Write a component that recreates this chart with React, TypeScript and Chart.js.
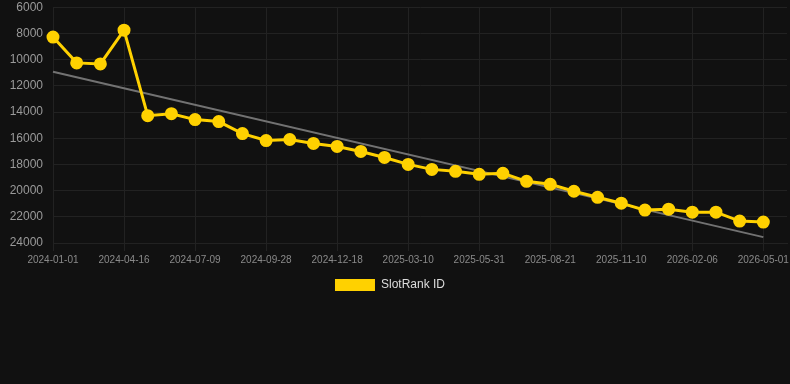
import React, { useEffect, useRef } from "react";
import { Chart, registerables } from "chart.js";

Chart.register(...registerables);

const dateLabels: string[] = [
  "2024-01-01", "2024-02-05", "2024-03-11",
  "2024-04-16", "2024-05-14", "2024-06-11",
  "2024-07-09", "2024-08-05", "2024-09-01",
  "2024-09-28", "2024-10-25", "2024-11-21",
  "2024-12-18", "2025-01-14", "2025-02-11",
  "2025-03-10", "2025-04-06", "2025-05-03",
  "2025-05-31", "2025-06-27", "2025-07-24",
  "2025-08-21", "2025-09-17", "2025-10-14",
  "2025-11-10", "2025-12-09", "2026-01-08",
  "2026-02-06", "2026-03-06", "2026-04-03",
  "2026-05-01", "",
];

const rankValues: number[] = [
  8280, 10250, 10330, 7750, 14280, 14130, 14580, 14730, 15650, 16180,
  16100, 16400, 16630, 17010, 17470, 18000, 18380, 18530, 18760, 18680,
  19290, 19520, 20050, 20510, 20960, 21490, 21420, 21650, 21650, 22330,
  22400,
];

const trendStart = 10920;
const trendEnd = 23550;

const yTicks = { min: 6000, max: 24000, step: 2000 };

const legendShift = {
  id: "legendShift",
  afterLayout(c: any) {
    if (c.legend) {
      c.legend.right -= 10;
      c.legend.width -= 10;
    }
  },
};

export default function App() {
  const ref = useRef<HTMLCanvasElement | null>(null);

  useEffect(() => {
    document.body.style.margin = "0";
    document.body.style.background = "#111111";
    if (!ref.current) return;
    const trendData: (number | null)[] = rankValues.map((_, i) =>
      i === 0 ? trendStart : i === rankValues.length - 1 ? trendEnd : null
    );
    const gridColor = "#222222";
    const chart = new Chart(ref.current, {
      type: "line",
      plugins: [legendShift],
      data: {
        labels: dateLabels,
        datasets: [
          {
            label: "SlotRank ID",
            data: rankValues,
            borderColor: "#FFD100",
            backgroundColor: "#FFD100",
            borderWidth: 3,
            pointRadius: 5,
            pointHoverRadius: 5,
            pointBackgroundColor: "#FFD100",
            pointBorderColor: "#FFD100",
            tension: 0,
            order: 1,
          },
          {
            label: "Trend",
            data: trendData,
            borderColor: "rgba(120,120,120,0.95)",
            backgroundColor: "rgba(120,120,120,0.95)",
            borderWidth: 2,
            pointRadius: 0,
            spanGaps: true,
            order: 2,
          },
        ],
      },
      options: {
        animation: false,
        responsive: true,
        maintainAspectRatio: false,
        layout: { autoPadding: false, padding: { left: 0, right: 0, top: -1, bottom: 0 } },
        plugins: {
          legend: {
            position: "bottom",
            labels: {
              color: "#dddddd",
              boxWidth: 40,
              boxHeight: 12,
              font: { size: 12, family: "Liberation Sans, Arial, sans-serif" },
              filter: (item) => item.text === "SlotRank ID",
              generateLabels: (c) =>
                Chart.defaults.plugins.legend.labels
                  .generateLabels(c)
                  .map((l) => ({ ...l, lineWidth: 0 })),
            },
          },
          tooltip: { enabled: false },
        },
        scales: {
          x: {
            type: "category",
            offset: false,
            grid: {
              color: (ctx) => (ctx.index % 3 === 0 && ctx.index < 31 ? gridColor : "transparent"),
              drawTicks: true,
              tickLength: 8,
            },
            border: { color: gridColor },
            ticks: {
              autoSkip: false,
              maxRotation: 0,
              padding: 3,
              color: "#8a8a8a",
              font: { size: 10, family: "Liberation Sans, Arial, sans-serif" },
              callback: (_v, i) => (i % 3 === 0 ? dateLabels[i] : ""),
            },
          },
          y: {
            reverse: true,
            min: yTicks.min,
            max: yTicks.max,
            afterFit: (s) => {
              s.width = 53;
            },
            grid: { color: gridColor, drawTicks: true, tickLength: 10, tickColor: "transparent" },
            border: { color: gridColor },
            ticks: {
              stepSize: yTicks.step,
              padding: 0,
              color: "#9a9a9a",
              font: { size: 12, family: "Liberation Sans, Arial, sans-serif" },
              callback: (v) => String(v),
            },
          },
        },
      },
    });
    return () => chart.destroy();
  }, []);

  return (
    <div style={{ width: 790, height: 301, position: "relative", background: "#111111" }}>
      <canvas ref={ref} />
    </div>
  );
}
